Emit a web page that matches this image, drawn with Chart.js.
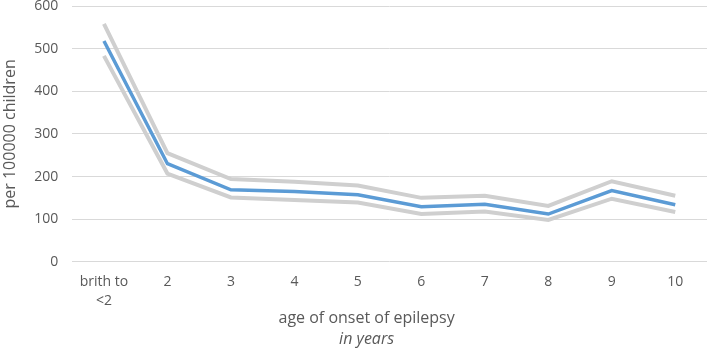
<!DOCTYPE html>
<html>
<head>
<meta charset="utf-8">
<script src="https://cdn.jsdelivr.net/npm/chart.js@4"></script>
<style>
  html, body { margin: 0; padding: 0; background: #fff; }
</style>
</head>
<body>
<canvas id="chart" width="709" height="348"></canvas>
<script>
const categories = [["brith to", "<2"], "2", "3", "4", "5", "6", "7", "8", "9", "10"];
const rate  = [518, 230, 169, 165, 157, 129, 135, 112, 167, 134];
const upper = [558, 255, 194, 188, 179, 150, 155, 131, 189, 155];
const lower = [483, 207, 151, 145, 139, 112, 118, 98, 148, 117];
const yTicks = [0, 100, 200, 300, 400, 500, 600];
const xTitle = "age of onset of epilepsy";
const xSubTitle = "in years";

const textColor = "#595959";
const fontFamily = "'Open Sans', sans-serif";

// the x title sits a bit left of the plot centre in the original, with an italic second line
const bottomTitles = {
    id: "bottomTitles",
    afterDraw(chart) {
        const ctx = chart.ctx;
        const cx = chart.chartArea.left + chart.chartArea.width / 2 - 23;
        ctx.save();
        ctx.fillStyle = textColor;
        ctx.textAlign = "center";
        ctx.textBaseline = "alphabetic";
        ctx.font = "16px " + fontFamily;
        ctx.fillText(xTitle, cx, chart.height - 25);
        ctx.font = "italic 16px " + fontFamily;
        ctx.fillText(xSubTitle, cx, chart.height - 4);
        ctx.restore();
    }
};

new Chart(document.getElementById("chart"), {
    type: "line",
    data: {
        labels: categories,
        datasets: [
            { data: rate, borderColor: "#5b9bd5", borderWidth: 3.5, pointRadius: 0, order: 0 },
            { data: upper, borderColor: "#cfcfcf", borderWidth: 4, pointRadius: 0, order: 1 },
            { data: lower, borderColor: "#cfcfcf", borderWidth: 4, pointRadius: 0, order: 1 }
        ]
    },
    plugins: [bottomTitles],
    options: {
        responsive: false,
        animation: false,
        layout: { padding: { top: 6, right: 2, left: 0, bottom: 27 } },
        plugins: {
            legend: { display: false },
            tooltip: { enabled: false }
        },
        scales: {
            x: {
                offset: true,
                grid: { display: false, drawTicks: false },
                border: { display: false },
                ticks: {
                    color: textColor,
                    font: { family: fontFamily, size: 14, lineHeight: 1.4 },
                    padding: 10,
                    maxRotation: 0,
                    autoSkip: false
                }
            },
            y: {
                min: 0,
                max: 600,
                afterBuildTicks: axis => { axis.ticks = yTicks.map(v => ({ value: v })); },
                afterFit: axis => { axis.paddingTop = 0; axis.paddingBottom = 0; },
                grid: { color: "#d9d9d9", lineWidth: 1, drawTicks: false },
                border: { display: false },
                ticks: {
                    color: textColor,
                    font: { family: fontFamily, size: 14, lineHeight: 1 },
                    padding: 14
                },
                title: {
                    display: true,
                    text: "per 100000 children",
                    color: textColor,
                    font: { family: fontFamily, size: 16 },
                    padding: { top: 1, bottom: 0 }
                }
            }
        }
    }
});
</script>
</body>
</html>
